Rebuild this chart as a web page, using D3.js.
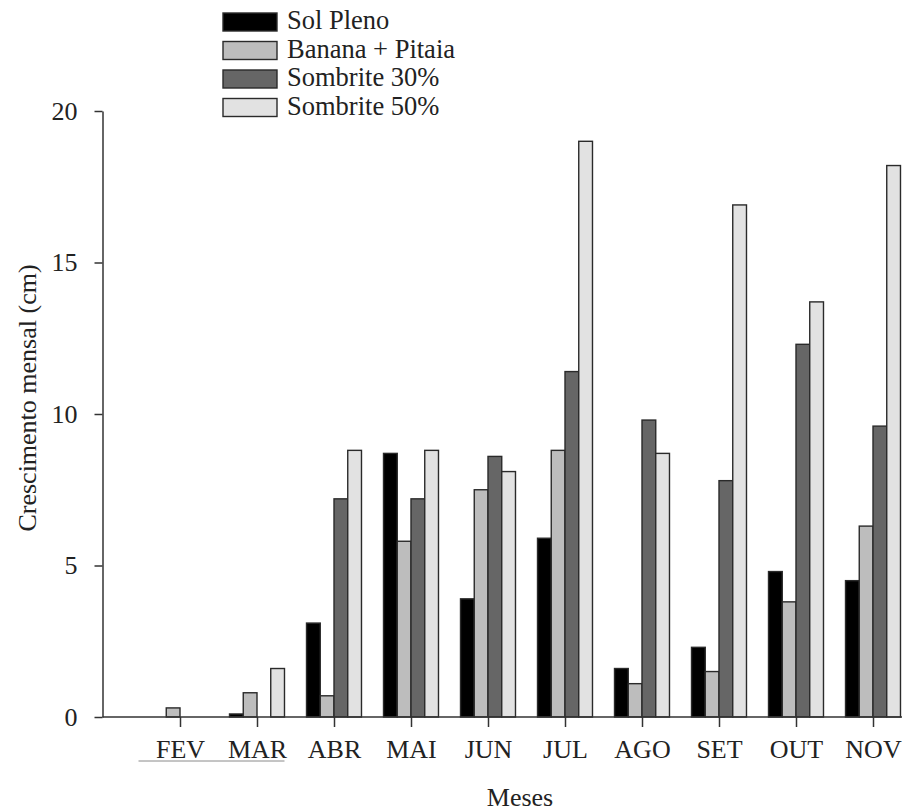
<!DOCTYPE html>
<html>
<head>
<meta charset="utf-8">
<script src="https://cdn.jsdelivr.net/npm/d3@7"></script>
<style>
  body { margin: 0; background: #fff; }
  svg text { font-family: "Liberation Serif", "Times New Roman", serif; }
</style>
</head>
<body>
<svg id="chart" width="902" height="811"></svg>
<script>
// data
const months = ['FEV', 'MAR', 'ABR', 'MAI', 'JUN', 'JUL', 'AGO', 'SET', 'OUT', 'NOV'];
const seriesNames = ['Sol Pleno', 'Banana + Pitaia', 'Sombrite 30%', 'Sombrite 50%'];
const solPleno     = [0,   0.1, 3.1, 8.7, 3.9, 5.9, 1.6, 2.3, 4.8, 4.5];
const bananaPitaia = [0.3, 0.8, 0.7, 5.8, 7.5, 8.8, 1.1, 1.5, 3.8, 6.3];
const sombrite30   = [0,   0,   7.2, 7.2, 8.6, 11.4, 9.8, 7.8, 12.3, 9.6];
const sombrite50   = [0,   1.6, 8.8, 8.8, 8.1, 19.0, 8.7, 16.9, 13.7, 18.2];
const yTicks = [0, 5, 10, 15, 20];

const seriesValues = [solPleno, bananaPitaia, sombrite30, sombrite50];
const fills = ['#000000', '#bdbdbd', '#666666', '#e2e2e2'];
const SERIF = '"Liberation Serif", "Times New Roman", serif';

const svg = d3.select('#chart');
const axisX0 = 102.5, axisY0 = 717;

const y = d3.scaleLinear().domain([0, 20]).range([717, 111]);
const x = d3.scaleBand().domain(months).range([141.5, 911.5])
    .paddingInner(0.286).paddingOuter(0.143);
const xs = d3.scaleBand().domain(seriesNames).range([0, x.bandwidth()]);

// bars
const g = svg.append('g');
months.forEach((m, i) => {
    seriesNames.forEach((s, j) => {
        const v = seriesValues[j][i];
        if (!v) return;
        g.append('rect')
            .attr('x', x(m) + xs(s))
            .attr('y', y(v))
            .attr('width', xs.bandwidth())
            .attr('height', y(0) - y(v))
            .attr('fill', fills[j])
            .attr('stroke', '#2a2a2a')
            .attr('stroke-width', 1.4);
    });
});

// y axis
const yAxis = svg.append('g')
    .attr('transform', `translate(${axisX0},0)`)
    .call(d3.axisLeft(y).tickValues(yTicks).tickSize(8).tickSizeOuter(0).tickPadding(17));
yAxis.attr('font-family', SERIF);
yAxis.select('.domain').attr('stroke', '#333').attr('stroke-width', 1.5);
yAxis.selectAll('.tick line').attr('stroke', '#333').attr('stroke-width', 1.5);
yAxis.selectAll('text').attr('font-size', 26).attr('fill', '#222');

// x axis
const xCenter = d3.scalePoint().domain(months)
    .range([x(months[0]) + x.bandwidth() / 2, x(months[months.length - 1]) + x.bandwidth() / 2]);
const xAxis = svg.append('g')
    .attr('transform', `translate(0,${axisY0})`)
    .call(d3.axisBottom(xCenter).tickSize(10).tickSizeOuter(0).tickPadding(13));
xAxis.attr('font-family', SERIF);
xAxis.select('.domain').remove();
xAxis.selectAll('.tick line').attr('stroke', '#333').attr('stroke-width', 1.5);
xAxis.selectAll('text').attr('font-size', 26).attr('fill', '#222');
svg.append('line')
    .attr('x1', axisX0).attr('x2', 902)
    .attr('y1', axisY0).attr('y2', axisY0)
    .attr('stroke', '#333').attr('stroke-width', 1.5);

// stray rule under the first labels
svg.append('line')
    .attr('x1', x('FEV') - 14).attr('x2', x('MAR') + x.bandwidth())
    .attr('y1', 761).attr('y2', 761)
    .attr('stroke', '#8a8a8a').attr('stroke-width', 1);

// axis titles
svg.append('text')
    .attr('transform', 'translate(36,398) rotate(-90)')
    .attr('text-anchor', 'middle')
    .attr('font-family', SERIF)
    .attr('font-size', 26).attr('fill', '#222')
    .text('Crescimento mensal (cm)');
svg.append('text')
    .attr('x', 520).attr('y', 806)
    .attr('text-anchor', 'middle')
    .attr('font-family', SERIF)
    .attr('font-size', 26).attr('fill', '#222')
    .text('Meses');

// legend
const legend = svg.append('g').attr('transform', 'translate(223,0)');
seriesNames.forEach((s, j) => {
    const row = legend.append('g').attr('transform', `translate(0,${13 + j * 28.5})`);
    row.append('rect')
        .attr('width', 54).attr('height', 18)
        .attr('fill', fills[j])
        .attr('stroke', '#2a2a2a').attr('stroke-width', 1.4);
    row.append('text')
        .attr('x', 64).attr('y', 16)
        .attr('font-family', SERIF)
        .attr('font-size', 26.5).attr('fill', '#222')
        .text(s);
});
</script>
</body>
</html>
